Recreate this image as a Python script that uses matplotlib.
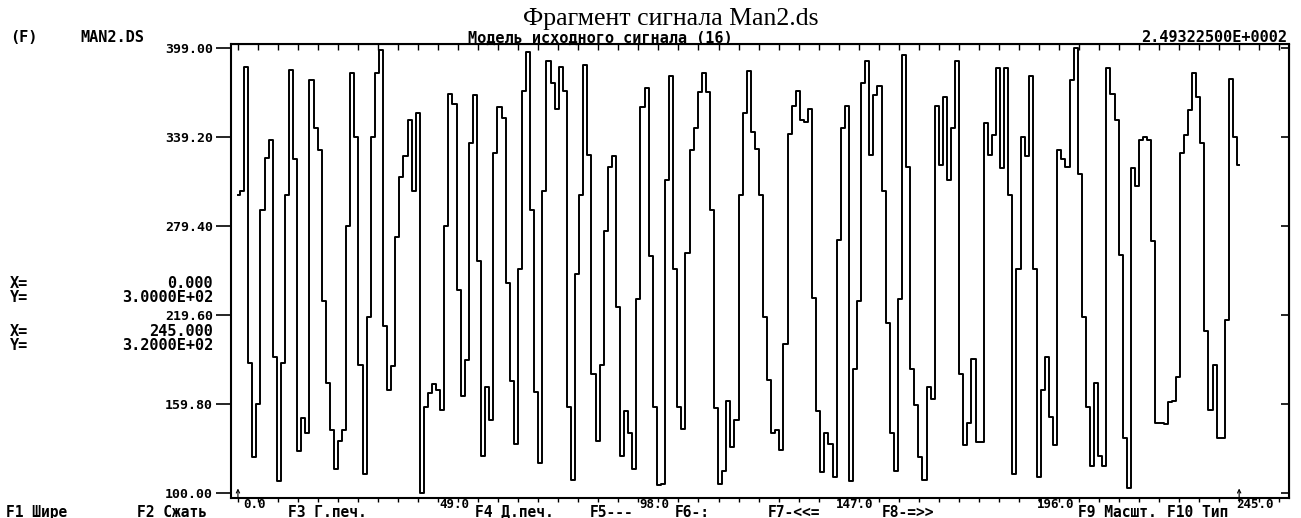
import numpy as np
import matplotlib
matplotlib.use('Agg')
import matplotlib.pyplot as plt

sig = [300, 303, 386, 187, 124, 160, 290, 325, 337, 191,
       108, 187, 300, 384, 324, 128, 150, 140, 377, 345,
       330, 229, 174, 142, 116, 135, 142, 279, 382, 339,
       186, 113, 218, 339, 382, 397, 212, 169, 185, 272,
       312, 326, 350, 303, 355, 100, 158, 167, 173, 169,
       156, 279, 368, 361, 236, 165, 189, 335, 367, 256,
       125, 171, 149, 328, 359, 352, 241, 175, 133, 250,
       370, 396, 290, 168, 120, 303, 390, 375, 358, 386,
       370, 158, 109, 247, 300, 387, 327, 180, 135, 186,
       276, 319, 326, 225, 125, 155, 140, 116, 230, 359,
       372, 259, 158, 105, 106, 310, 380, 250, 158, 143,
       261, 330, 345, 369, 382, 369, 290, 157, 106, 115,
       162, 131, 149, 300, 355, 383, 342, 331, 300, 218,
       176, 140, 142, 129, 200, 341, 360, 370, 350, 349,
       358, 231, 155, 114, 140, 133, 111, 270, 345, 360,
       108, 183, 229, 375, 390, 327, 367, 373, 303, 214,
       140, 115, 230, 394, 319, 183, 159, 124, 109, 171,
       163, 360, 320, 366, 310, 345, 390, 180, 132, 147,
       190, 134, 134, 348, 327, 340, 385, 318, 385, 300,
       113, 250, 339, 326, 380, 250, 111, 169, 191, 151,
       132, 330, 324, 319, 377, 399, 314, 218, 158, 118,
       174, 125, 118, 385, 368, 350, 260, 137, 103, 318,
       306, 337, 339, 337, 269, 147, 147, 146, 161, 162,
       178, 328, 340, 357, 382, 366, 335, 209, 156, 186,
       137, 137, 216, 378, 339, 320]

y_ticks = [100.00, 159.80, 219.60, 279.40, 339.20, 399.00]
x_ticks = [0.0, 49.0, 98.0, 147.0, 196.0, 245.0]
cur_x = [0.0, 245.0]          # курсоры
cur_y = [3.0e2, 3.2e2]

head_file = ['(F)', 'MAN2.DS']
head_name = 'Модель исходного сигнала (16)'
head_val = '2.49322500E+0002'
title = 'Фрагмент сигнала Man2.ds'
menu = ['F1 Шире', 'F2 Сжать', 'F3 Г.печ.', 'F4 Д.печ.', 'F5---', 'F6-:',
        'F7-<<=', 'F8-=>>', 'F9 Масшт.', 'F10 Тип']

plt.rcParams['font.family'] = 'DejaVu Sans Mono'
plt.rcParams['font.weight'] = 'bold'

W, H = 1301, 518
fig = plt.figure(figsize=(W / 100, H / 100), dpi=100)
ax = fig.add_axes([231 / W, 1 - 498 / H, (1289 - 231) / W, (498 - 44) / H])

ax.plot(range(len(sig)), sig, color='black', lw=1.4, drawstyle='steps-mid')
ax.set_xlim(-1.7, 257.2)
ax.set_ylim(96.6, 401.35)
for sp in ax.spines.values():
    sp.set_linewidth(1.5)

# ось Y: подписи слева, засечки справа внутрь
ax.set_yticks(y_ticks, ['%.2f' % v for v in y_ticks])
ax.tick_params(axis='y', direction='out', length=11, width=1.2, pad=2, labelsize=9.5)
secy = ax.secondary_yaxis('right')
secy.set_yticks(y_ticks)
secy.tick_params(direction='in', length=6, width=1.2, labelright=False)

# ось X: мелкие засечки сверху и снизу
minor = np.arange(0, 257, 4.9)
ax.set_xticks(minor)
ax.tick_params(axis='x', direction='out', length=3, width=1, labelbottom=False)
secx = ax.secondary_xaxis('top')
secx.set_xticks(minor)
secx.tick_params(direction='in', length=4, width=1, labeltop=False)
for v in x_ticks:
    ax.text(v + 4, -0.5 / 454, '%.1f' % v, transform=ax.get_xaxis_transform(),
            ha='center', va='top', fontsize=9)

# стрелки курсоров
for cx in cur_x:
    ax.annotate('', xy=(cx, 103), xytext=(cx, 96.6), annotation_clip=False,
                arrowprops=dict(arrowstyle='->', lw=0.8, color='k', shrinkA=0, shrinkB=0,
                                mutation_scale=6))

# значения курсоров слева
rows = [('X=', '%.3f' % cur_x[0], 283), ('Y=', '%.4E' % cur_y[0], 297),
        ('X=', '%.3f' % cur_x[1], 332), ('Y=', '%.4E' % cur_y[1], 345)]
for lab, val, py in rows:
    fig.text(10 / W, 1 - py / H, lab, ha='left', va='center', fontsize=11)
    fig.text(213 / W, 1 - py / H, val, ha='right', va='center', fontsize=11)

# шапка
fig.text(10 / W, 1 - 42.5 / H, head_file[0], ha='left', va='baseline', fontsize=11)
fig.text(80 / W, 1 - 42.5 / H, head_file[1], ha='left', va='baseline', fontsize=11)
fig.text(600 / W, 1 - 42.5 / H, head_name, ha='center', va='baseline', fontsize=11)
fig.text(1287 / W, 1 - 42.5 / H, head_val, ha='right', va='baseline', fontsize=11)
fig.text(671 / W, 1 - 25 / H, title, ha='center', va='baseline', fontsize=18.5,
         family='Liberation Serif', weight='normal')

# строка функциональных клавиш (сдвинуты, чтобы не наезжать на подписи оси X)
menu_px = [6, 137, 288, 475, 590, 675, 768, 882, 1078, 1167]
for s, mx in zip(menu, menu_px):
    fig.text(mx / W, 1 - 517 / H, s, ha='left', va='baseline', fontsize=10.5)

fig.savefig('out.png', dpi=100, facecolor='white')
